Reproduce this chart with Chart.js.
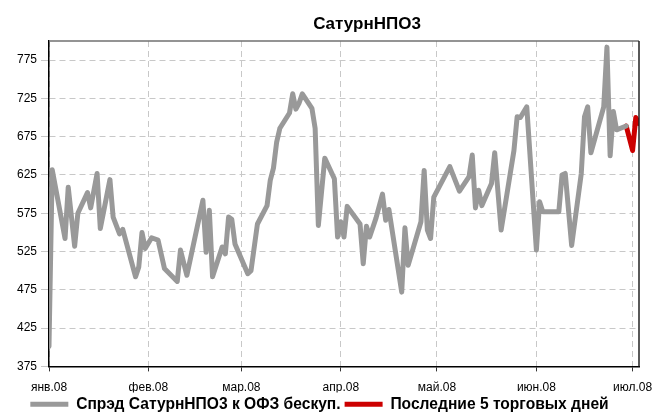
<!DOCTYPE html>
<html>
<head>
<meta charset="utf-8">
<script src="https://cdn.jsdelivr.net/npm/chart.js@4"></script>
<style>
html,body{margin:0;padding:0;background:#fff;}
#c{display:block;}
</style>
</head>
<body>
<canvas id="c" width="653" height="414"></canvas>
<script>
const chartTitle = 'СатурнНПО3';
const seriesNames = ['Спрэд СатурнНПО3 к ОФЗ бескуп.', 'Последние 5 торговых дней'];

const monthTickDates = ['2008-01-01','2008-02-01','2008-03-01','2008-04-01','2008-05-01','2008-06-01','2008-07-01'];
const monthTickLabels = ['янв.08','фев.08','мар.08','апр.08','май.08','июн.08','июл.08'];
const yTickValues = [375,425,475,525,575,625,675,725,775];
const xRangeDates = ['2008-01-01','2008-07-03'];
const yRange = [375, 800];

const spreadDates = [
 '2008-01-01','2008-01-02','2008-01-06','2008-01-07','2008-01-09','2008-01-10','2008-01-13','2008-01-14',
 '2008-01-16','2008-01-17','2008-01-20','2008-01-21','2008-01-23','2008-01-24','2008-01-28','2008-01-29',
 '2008-01-30','2008-01-31','2008-02-02','2008-02-04','2008-02-06','2008-02-10','2008-02-11','2008-02-13',
 '2008-02-18','2008-02-19','2008-02-20','2008-02-21','2008-02-24','2008-02-25','2008-02-26','2008-02-27',
 '2008-02-28','2008-03-03','2008-03-04','2008-03-06','2008-03-09','2008-03-10','2008-03-11','2008-03-12',
 '2008-03-13','2008-03-16','2008-03-17','2008-03-18','2008-03-19','2008-03-20','2008-03-23','2008-03-24',
 '2008-03-25','2008-03-27','2008-03-30','2008-03-31','2008-04-01','2008-04-02','2008-04-03','2008-04-07',
 '2008-04-08','2008-04-09','2008-04-10','2008-04-12','2008-04-14','2008-04-15','2008-04-16','2008-04-20',
 '2008-04-21','2008-04-22','2008-04-26','2008-04-27','2008-04-28','2008-04-29','2008-04-30','2008-05-05',
 '2008-05-08','2008-05-11','2008-05-12','2008-05-13','2008-05-14','2008-05-15','2008-05-18','2008-05-19',
 '2008-05-21','2008-05-23','2008-05-25','2008-05-26','2008-05-27','2008-05-29','2008-06-01','2008-06-02',
 '2008-06-03','2008-06-08','2008-06-09','2008-06-10','2008-06-12','2008-06-15','2008-06-16','2008-06-17',
 '2008-06-18','2008-06-22','2008-06-23','2008-06-24','2008-06-25','2008-06-26','2008-06-29'
];
const spreadValues = [
 401,632,542,609,532,575,602,582,
 627,555,619,570,548,554,492,505,
 550,529,543,540,503,486,527,494,
 592,524,579,492,531,522,570,567,
 535,496,500,561,585,618,634,668,
 686,706,731,711,719,731,712,686,
 559,647,620,544,564,544,584,561,
 509,558,544,569,600,566,580,472,
 556,507,564,631,553,542,596,636,
 604,623,651,582,605,585,614,654,
 553,605,657,701,700,714,527,590,
 577,577,625,627,533,627,701,714,
 654,714,792,650,708,684,689
];

const lastDates = ['2008-06-29','2008-06-30','2008-07-01','2008-07-02','2008-07-03'];
const lastValues = [689,673,657,700,692];

function dayOf(s) {
  const p = s.split('-').map(Number);
  return (Date.UTC(p[0], p[1]-1, p[2]) - Date.UTC(2008, 0, 1)) / 864e5;
}
function toPoints(dates, values) {
  return dates.map((d, i) => ({x: dayOf(d), y: values[i]}));
}

const FONT = "'Liberation Sans', Arial, sans-serif";
const GRID = '#c8c8c8';

const titlePlugin = {
  id: 'customTitle',
  afterDraw(chart) {
    const ctx = chart.ctx;
    ctx.save();
    ctx.font = "bold 17px " + FONT;
    ctx.fillStyle = '#000';
    ctx.textAlign = 'center';
    ctx.textBaseline = 'alphabetic';
    ctx.fillText(chartTitle, 367, 29);
    ctx.restore();
  }
};

const framePlugin = {
  id: 'frame',
  afterDatasetsDraw(chart) {
    const a = chart.chartArea, ctx = chart.ctx;
    ctx.save();
    ctx.lineWidth = 1.5;
    ctx.strokeStyle = '#707070';
    ctx.beginPath(); ctx.moveTo(a.left, a.top); ctx.lineTo(a.right, a.top); ctx.stroke();
    ctx.strokeStyle = '#222';
    ctx.beginPath(); ctx.moveTo(a.right, a.top); ctx.lineTo(a.right, a.bottom); ctx.stroke();
    ctx.restore();
  }
};

new Chart(document.getElementById('c'), {
  type: 'line',
  data: {
    datasets: [
      {
        label: seriesNames[0],
        data: toPoints(spreadDates, spreadValues),
        borderColor: '#999999',
        backgroundColor: '#999999',
        borderWidth: 5,
        borderCapStyle: 'round',
        borderJoinStyle: 'round',
        pointRadius: 0,
        tension: 0
      },
      {
        label: seriesNames[1],
        data: toPoints(lastDates, lastValues),
        borderColor: '#cc0000',
        backgroundColor: '#cc0000',
        borderWidth: 5,
        borderCapStyle: 'round',
        borderJoinStyle: 'round',
        pointRadius: 0,
        tension: 0
      }
    ]
  },
  options: {
    responsive: false,
    animation: false,
    layout: { padding: { top: 41, right: 14, left: 0, bottom: -8 } },
    plugins: {
      title: { display: false },
      tooltip: { enabled: false },
      legend: {
        position: 'bottom',
        labels: {
          usePointStyle: true,
          pointStyle: 'line',
          pointStyleWidth: 38,
          boxHeight: 5,
          padding: 4,
          color: '#000',
          font: { family: FONT, size: 15.6, weight: 'bold' }
        }
      }
    },
    scales: {
      x: {
        type: 'linear',
        min: dayOf(xRangeDates[0]),
        max: dayOf(xRangeDates[1]),
        afterBuildTicks: s => { s.ticks = monthTickDates.map(d => ({ value: dayOf(d) })); },
        afterFit: s => { s.height = 26; s.paddingLeft = 0; s.paddingRight = 0; },
        ticks: {
          autoSkip: false,
          maxRotation: 0,
          padding: 9,
          color: '#000',
          font: { family: FONT, size: 12 },
          callback: (v, i) => monthTickLabels[i]
        },
        grid: { color: GRID, lineWidth: 1, drawTicks: true, tickLength: 5, tickColor: '#333' },
        border: { display: true, color: '#000', width: 1.5, dash: [6, 4] }
      },
      y: {
        min: yRange[0],
        max: yRange[1],
        afterBuildTicks: s => { s.ticks = yTickValues.map(v => ({ value: v })); },
        afterFit: s => { s.width = 49; },
        ticks: {
          padding: 4,
          color: '#000',
          font: { family: FONT, size: 12 }
        },
        grid: { color: GRID, lineWidth: 1, drawTicks: true, tickLength: 8, tickColor: GRID },
        border: { display: true, color: '#000', width: 1.5, dash: [6, 4] }
      }
    }
  },
  plugins: [titlePlugin, framePlugin]
});
</script>
</body>
</html>
